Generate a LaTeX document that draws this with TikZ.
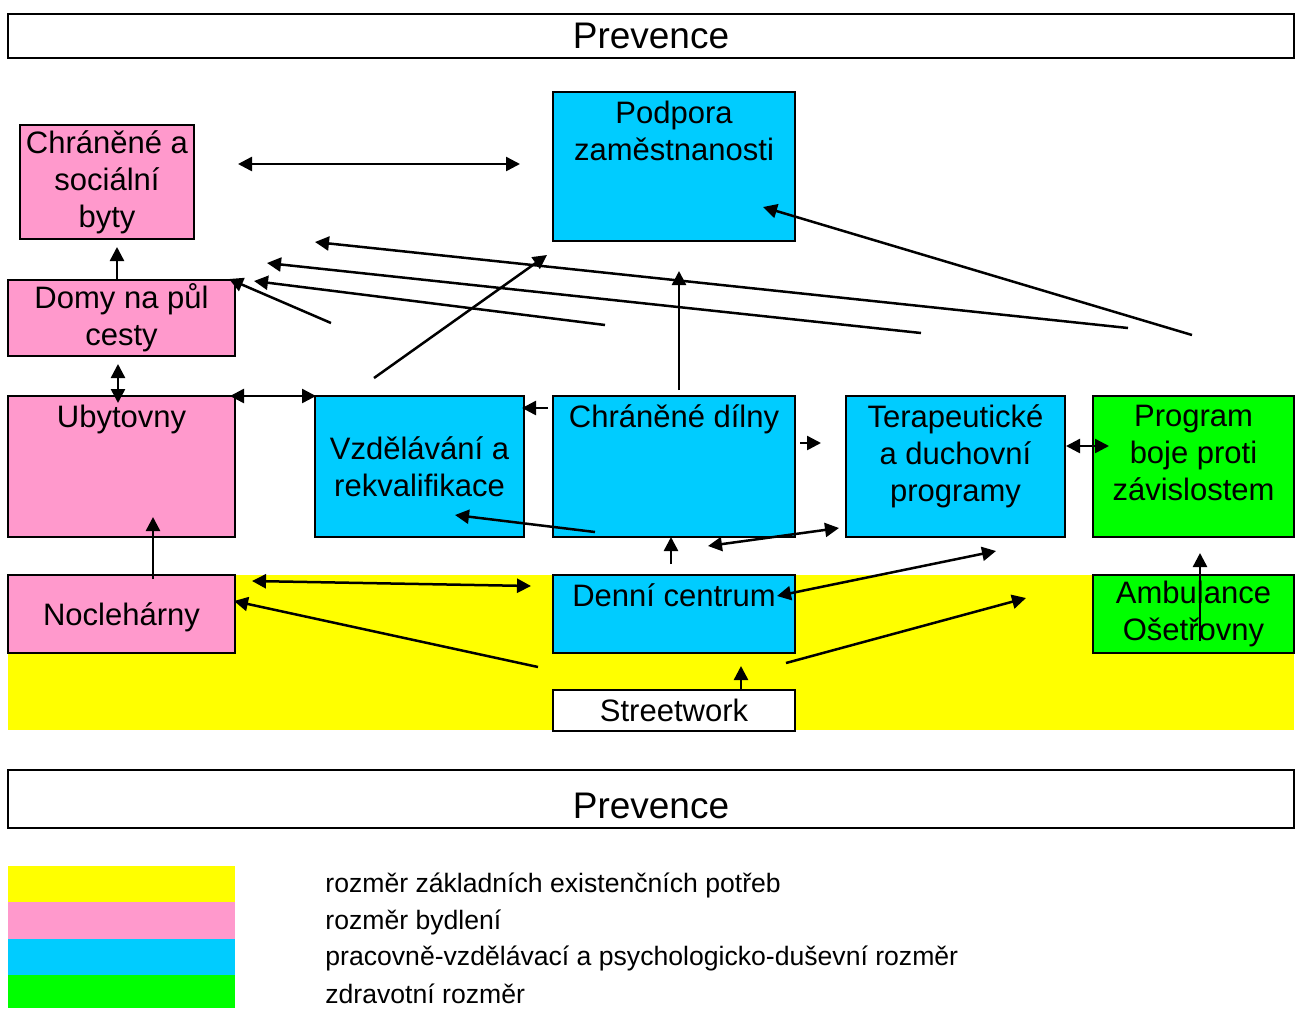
\documentclass[tikz,border=0pt]{standalone}
\usepackage{fontspec}
\setmainfont{Liberation Sans}
\usetikzlibrary{arrows.meta}

\definecolor{pinkc}{HTML}{FF99CC}
\definecolor{bluec}{HTML}{00CCFF}
\definecolor{greenc}{HTML}{00FF00}
\definecolor{yellowc}{HTML}{FFFF00}

\begin{document}
\begin{tikzpicture}[x=0.5pt,y=-0.5pt,
            box/.style={draw,rectangle,line width=1.4pt,inner sep=1pt,align=center,font=\fontsize{15.5}{18.5}\selectfont},
            pinkbox/.style={box,fill=pinkc},
            bluebox/.style={box,fill=bluec},
            greenbox/.style={box,fill=greenc},
            toptext/.style={label={[anchor=north,inner sep=2pt,yshift=-3pt,align=center,font=\fontsize{15.5}{18.5}\selectfont]north:#1}},
            prev/.style={draw,rectangle,line width=1.2pt,fill=white,minimum width=643pt,font=\fontsize{18.5}{22}\selectfont},
            leg/.style={anchor=west,inner sep=0pt,font=\fontsize{13.3}{16}\selectfont},
            every edge/.style={draw,line width=1.25pt},
            >={Triangle[length=7pt,width=7pt]}
          ]
          \useasboundingbox (0,0) rectangle (1301,1008);

          %yellow band
          \fill[yellowc] (8,575) rectangle (1294,730);

          \node[prev,minimum height=22pt] (prev1) at (651,36) {Prevence};
          \node[prev,minimum height=29pt,text height=19.5pt,text depth=0pt] (prev2) at (651,799) {Prevence};

          %bydleni
          \node[pinkbox,minimum width=87pt,minimum height=57pt] (byty) at (107,182) {Chráněné a\\sociální\\byty};
          \node[pinkbox,minimum width=113.5pt,minimum height=38pt] (domy) at (121.5,318) {Domy na půl\\cesty};
          \node[pinkbox,minimum width=113.5pt,minimum height=70.5pt,toptext=Ubytovny] (ubyt) at (121.5,466.5) {};
          \node[pinkbox,minimum width=113.5pt,minimum height=39pt,text height=12pt,text depth=1pt] (nocl) at (121.5,614) {Noclehárny};

          %prace a vzdelani
          \node[bluebox,minimum width=121pt,minimum height=74.5pt,toptext={Podpora\\zaměstnanosti}] (podpora) at (674,166.5) {};
          \node[bluebox,minimum width=104.5pt,minimum height=70.5pt] (vzdel) at (419.5,466.5) {Vzdělávání a\\rekvalifikace};
          \node[bluebox,minimum width=121pt,minimum height=70.5pt,toptext={Chráněné dílny}] (dilny) at (674,466.5) {};
          \node[bluebox,minimum width=109.5pt,minimum height=70.5pt,toptext={Terapeutické\\a duchovní\\programy}] (terap) at (955.5,466.5) {};
          \node[bluebox,minimum width=121pt,minimum height=39pt,toptext={Denní centrum}] (denni) at (674,614) {};

          %zdravi
          \node[greenbox,minimum width=100.5pt,minimum height=70.5pt,toptext={Program\\boje proti\\závislostem}] (progr) at (1193.5,466.5) {};
          \node[greenbox,minimum width=100.5pt,minimum height=39pt] (ambul) at (1193.5,614) {Ambulance\\Ošetřovny};

          \node[box,fill=white,minimum width=121pt,minimum height=20.5pt] (street) at (674,710.5) {Streetwork};

          %arrow ends
          \coordinate (e1s) at (238,164);   \coordinate (e1e) at (520,164);
          \coordinate (e2s) at (117,280);   \coordinate (e2e) at (117,247);
          \coordinate (e3s) at (118,364);   \coordinate (e3e) at (118,403);
          \coordinate (e4s) at (230,396);   \coordinate (e4e) at (316,396);
          \coordinate (e5s) at (548,408);   \coordinate (e5e) at (522,408);
          \coordinate (e6s) at (374,378);   \coordinate (e6e) at (547,255);
          \coordinate (e7s) at (679,390);   \coordinate (e7e) at (679,271);
          \coordinate (e8s) at (1192,335);  \coordinate (e8e) at (763,207);
          \coordinate (e9s) at (331,323);   \coordinate (e9e) at (229,279);
          \coordinate (e10s) at (605,325);  \coordinate (e10e) at (254,281);
          \coordinate (e11s) at (921,333);  \coordinate (e11e) at (267,263);
          \coordinate (e12s) at (1128,328); \coordinate (e12e) at (315,242);
          \coordinate (e13s) at (800,443);  \coordinate (e13e) at (821,443);
          \coordinate (e14s) at (1066,446); \coordinate (e14e) at (1109,446);
          \coordinate (e15s) at (595,532);  \coordinate (e15e) at (455,515);
          \coordinate (e16s) at (153,579);  \coordinate (e16e) at (153,517);
          \coordinate (e17s) at (252,581);  \coordinate (e17e) at (531,586);
          \coordinate (e18s) at (538,667);  \coordinate (e18e) at (234,601);
          \coordinate (e19s) at (671,564);  \coordinate (e19e) at (671,537);
          \coordinate (e20s) at (708,546);  \coordinate (e20e) at (839,528);
          \coordinate (e21s) at (777,596);  \coordinate (e21e) at (996,551);
          \coordinate (e22s) at (786,663);  \coordinate (e22e) at (1026,598);
          \coordinate (e23s) at (741,690);  \coordinate (e23e) at (741,666);
          \coordinate (e24s) at (1200,641); \coordinate (e24e) at (1200,553);

          %arrows
          \path
          (e1s) edge[<->] (e1e)
          (e2s) edge[->] (e2e)
          (e3s) edge[<->] (e3e)
          (e4s) edge[<->] (e4e)
          (e5s) edge[->] (e5e)
          (e6s) edge[->] (e6e)
          (e7s) edge[->] (e7e)
          (e8s) edge[->] (e8e)
          (e9s) edge[->] (e9e)
          (e10s) edge[->] (e10e)
          (e11s) edge[->] (e11e)
          (e12s) edge[->] (e12e)
          (e13s) edge[->] (e13e)
          (e14s) edge[<->] (e14e)
          (e15s) edge[->] (e15e)
          (e16s) edge[->] (e16e)
          (e17s) edge[<->] (e17e)
          (e18s) edge[->] (e18e)
          (e19s) edge[->] (e19e)
          (e20s) edge[<->] (e20e)
          (e21s) edge[<->] (e21e)
          (e22s) edge[->] (e22e)
          (e23s) edge[->] (e23e)
          (e24s) edge[->] (e24e)
          ;

          %legend
          \fill[yellowc] (8,866) rectangle (235,902);
          \fill[pinkc] (8,902) rectangle (235,939);
          \fill[bluec] (8,939) rectangle (235,975);
          \fill[greenc] (8,975) rectangle (235,1008);
          \node[leg] (leg1) at (325,885) {rozměr základních existenčních potřeb};
          \node[leg] (leg2) at (325,922) {rozměr bydlení};
          \node[leg] (leg3) at (325,958) {pracovně-vzdělávací a psychologicko-duševní rozměr};
          \node[leg] (leg4) at (325,994) {zdravotní rozměr};

      \end{tikzpicture}
\end{document}
